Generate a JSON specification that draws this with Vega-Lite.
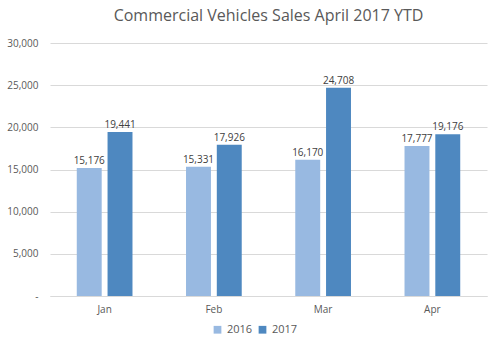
{
  "$schema": "https://vega.github.io/schema/vega-lite/v6.json",
  "autosize": {"type": "none"},
  "width": 437,
  "height": 253,
  "padding": {"left": 50, "top": 43, "right": 13, "bottom": 54},
  "background": "white",
  "title": {"text": "Commercial Vehicles Sales April 2017 YTD", "font": "Open Sans", "fontSize": 16, "fontWeight": "normal", "color": "#595959", "offset": 14, "anchor": "middle"},
  "config": {"view": {"stroke": null}, "font": "Open Sans"},
  "data": {"values": [
    {"month": "Jan", "year": "2016", "sales": 15176},
    {"month": "Jan", "year": "2017", "sales": 19441},
    {"month": "Feb", "year": "2016", "sales": 15331},
    {"month": "Feb", "year": "2017", "sales": 17926},
    {"month": "Mar", "year": "2016", "sales": 16170},
    {"month": "Mar", "year": "2017", "sales": 24708},
    {"month": "Apr", "year": "2016", "sales": 17777},
    {"month": "Apr", "year": "2017", "sales": 19176}
  ]},
  "encoding": {
    "x": {"field": "month", "type": "nominal", "sort": ["Jan", "Feb", "Mar", "Apr"],
      "scale": {"paddingInner": 0.49, "paddingOuter": 0.245},
      "axis": {"title": null, "labelAngle": 0, "ticks": false, "domainColor": "#D9D9D9", "labelColor": "#595959", "labelFontSize": 10, "labelPadding": 8}},
    "xOffset": {"field": "year", "type": "nominal", "scale": {"paddingInner": 0.19, "paddingOuter": 0}},
    "y": {"field": "sales", "type": "quantitative",
      "scale": {"domain": [0, 30000], "nice": false},
      "axis": {"title": null, "values": [0, 5000, 10000, 15000, 20000, 25000, 30000], "labelOverlap": false, "domain": false, "ticks": false, "gridColor": "#D9D9D9", "labelColor": "#595959", "labelFontSize": 10, "labelPadding": 12, "labelExpr": "datum.value == 0 ? '-' : format(datum.value, ',')"}}
  },
  "layer": [
    {
      "mark": {"type": "bar"},
      "encoding": {
        "color": {"field": "year", "type": "nominal",
          "scale": {"domain": ["2016", "2017"], "range": ["#98B9E1", "#4E88C0"]},
          "legend": {"title": null, "orient": "none", "legendX": 162, "legendY": 281, "direction": "horizontal", "symbolType": "square", "symbolSize": 60, "labelFontSize": 11, "labelColor": "#595959", "columnPadding": 4}}
      }
    },
    {
      "mark": {"type": "text", "dy": -7, "fontSize": 10, "color": "#404040"},
      "encoding": {
        "text": {"field": "sales", "type": "quantitative", "format": ","}
      }
    }
  ]
}
